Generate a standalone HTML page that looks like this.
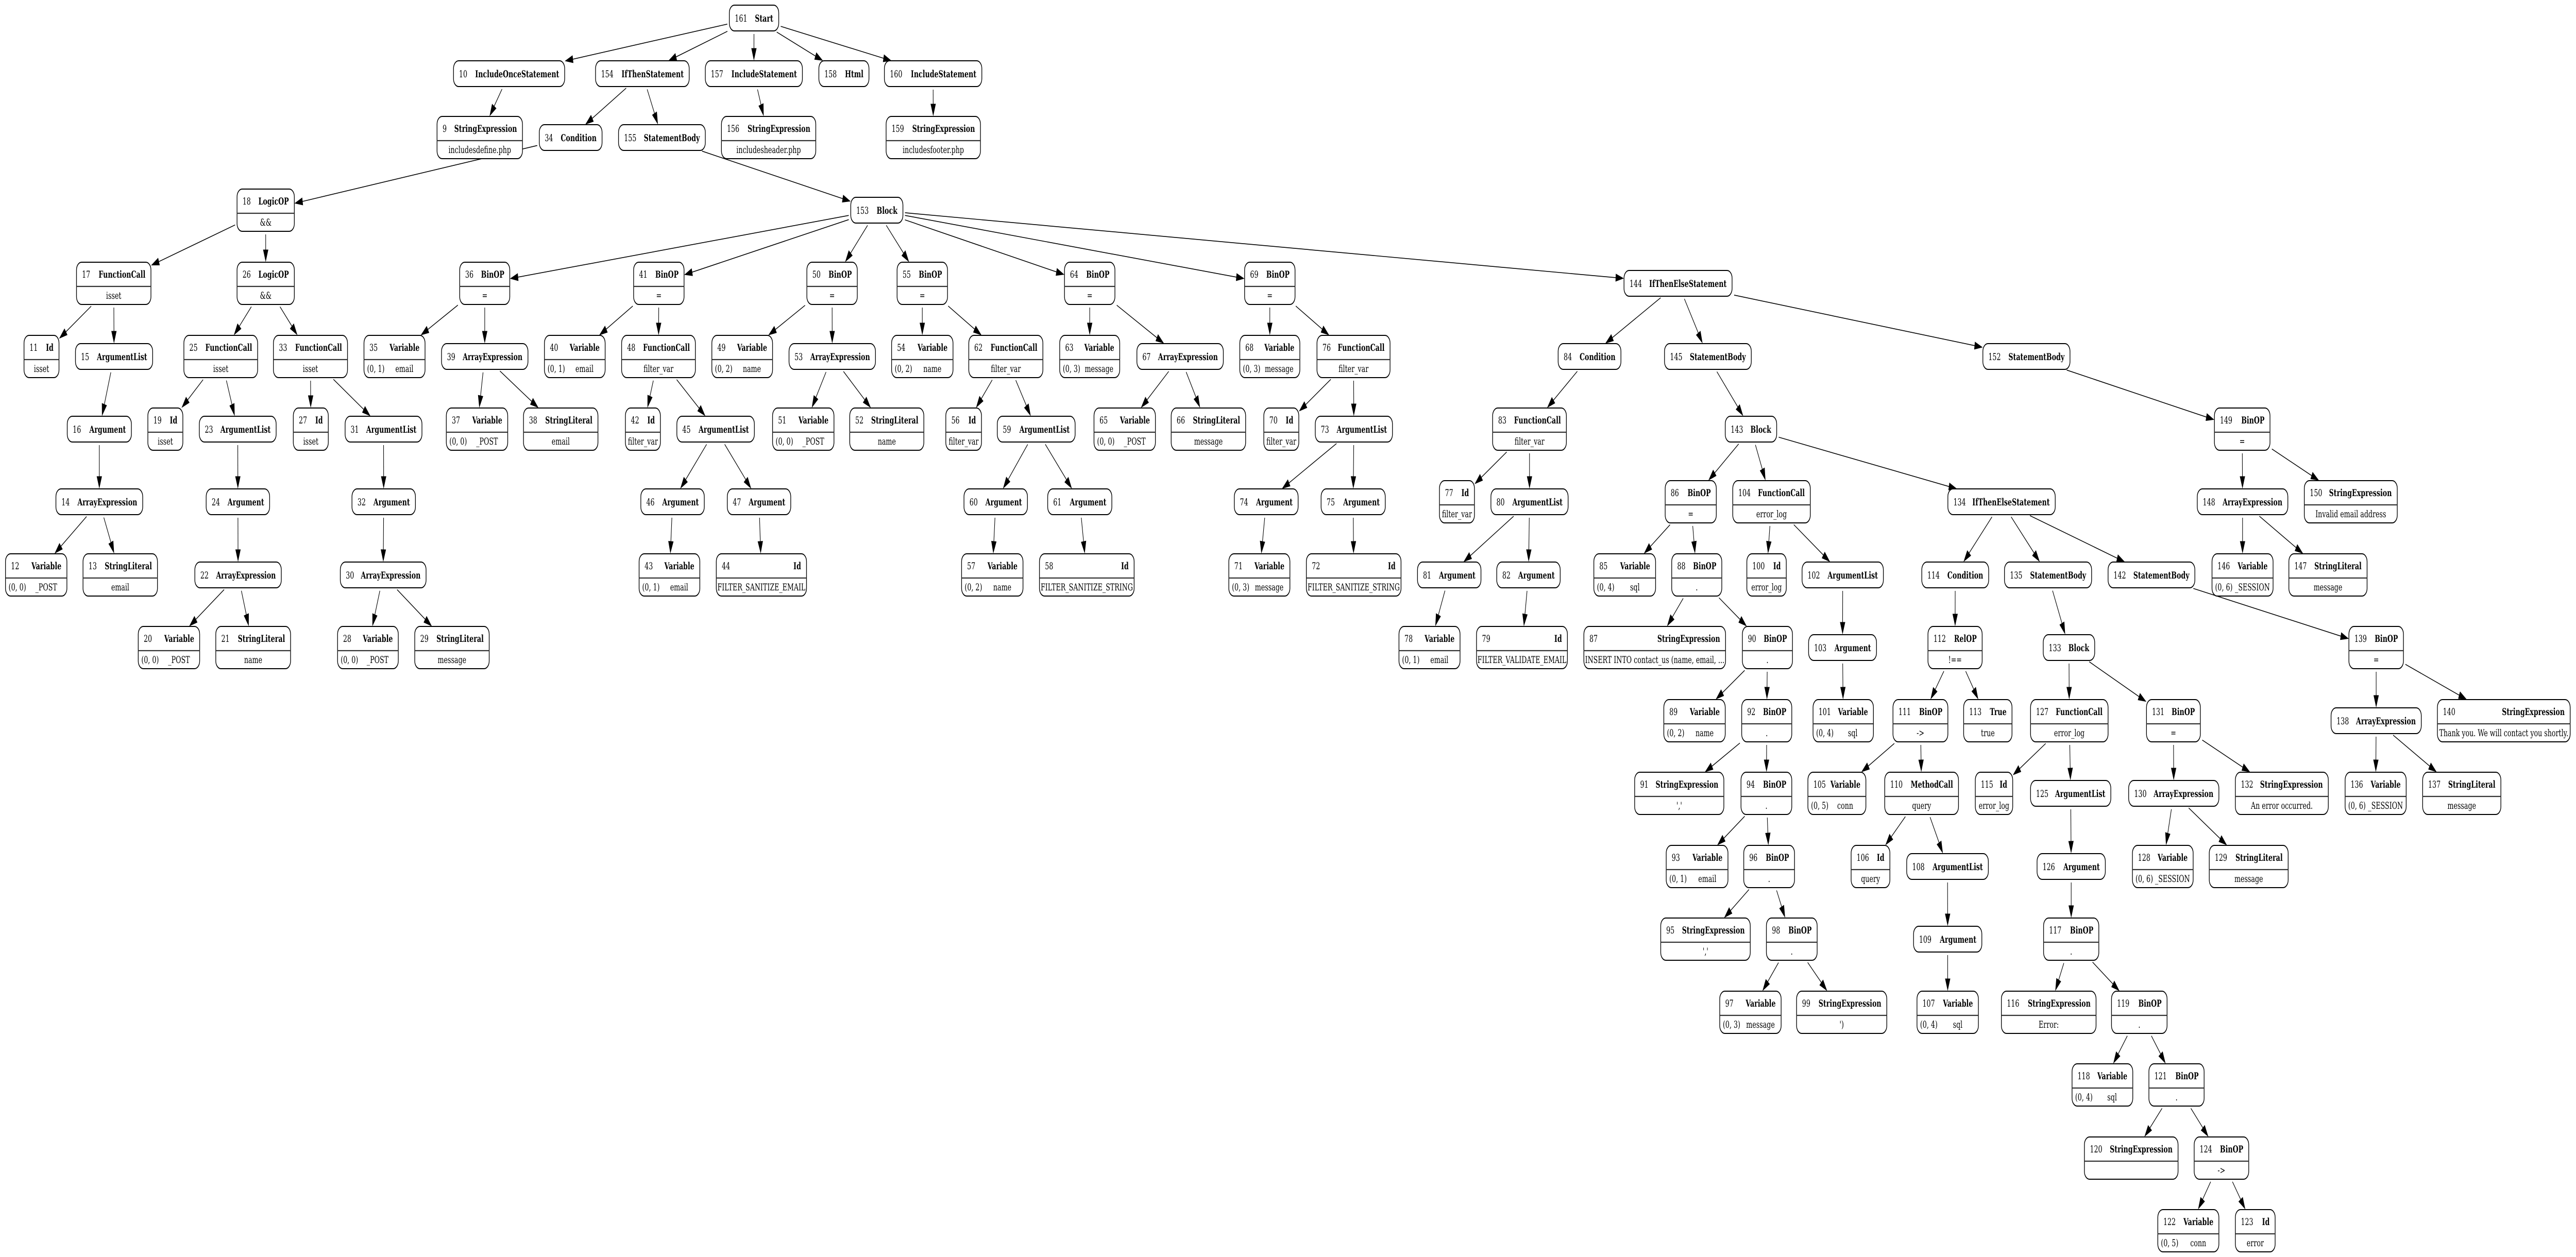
<!DOCTYPE html>
<html><head><meta charset="utf-8">
<style>
html,body{margin:0;padding:0;background:#fff;width:100%;height:100%;overflow:hidden;}
svg{display:block;width:100vw;height:100vh;}
text{font-family:"DejaVu Serif","Liberation Serif",serif;font-size:19px;fill:#000;}
.b{font-weight:bold;}
</style></head>
<body>
<svg id="g" xmlns="http://www.w3.org/2000/svg" viewBox="0 0 7509 2440" preserveAspectRatio="none"><rect width="7509" height="2440" fill="#fff"/></svg>
<script>
var C=[35,143,267,408,550,692,833,974,1116,1257,1399,1540,1682,1823,1965,2106,2248,2389];
var N={
161:["Start",2126,2270,0],
10:["IncludeOnceStatement",1322,1646,1],154:["IfThenStatement",1736,2009,1],157:["IncludeStatement",2056,2339,1],158:["Html",2387,2533,1],160:["IncludeStatement",2578,2862,1],
9:["StringExpression",1274,1523,2,"includesdefine.php"],34:["Condition",1572,1755,2],155:["StatementBody",1803,2056,2],156:["StringExpression",2103,2378,2,"includesheader.php"],159:["StringExpression",2583,2858,2,"includesfooter.php"],
18:["LogicOP",691,858,3,"&&"],153:["Block",2480,2632,3],
17:["FunctionCall",223,440,4,"isset"],26:["LogicOP",691,858,4,"&&"],36:["BinOP",1340,1486,4,"="],41:["BinOP",1847,1994,4,"="],50:["BinOP",2352,2499,4,"="],55:["BinOP",2615,2762,4,"="],64:["BinOP",3103,3250,4,"="],69:["BinOP",3628,3775,4,"="],144:["IfThenElseStatement",4734,5049,4],
11:["Id",70,172,5,"isset"],15:["ArgumentList",220,445,5],25:["FunctionCall",536,751,5,"isset"],33:["FunctionCall",797,1013,5,"isset"],35:["Variable",1061,1239,5,"email","(0, 1)"],39:["ArrayExpression",1287,1539,5],40:["Variable",1587,1764,5,"email","(0, 1)"],48:["FunctionCall",1812,2027,5,"filter_var"],49:["Variable",2075,2252,5,"name","(0, 2)"],53:["ArrayExpression",2300,2552,5],54:["Variable",2599,2778,5,"name","(0, 2)"],62:["FunctionCall",2824,3040,5,"filter_var"],63:["Variable",3089,3264,5,"message","(0, 3)"],67:["ArrayExpression",3314,3566,5],68:["Variable",3614,3789,5,"message","(0, 3)"],76:["FunctionCall",3839,4052,5,"filter_var"],84:["Condition",4542,4725,5],145:["StatementBody",4852,5105,5],152:["StatementBody",5780,6034,5],
16:["Argument",196,383,6],19:["Id",431,533,6,"isset"],23:["ArgumentList",581,805,6],27:["Id",855,957,6,"isset"],31:["ArgumentList",1006,1230,6],37:["Variable",1301,1480,6,"_POST","(0, 0)"],38:["StringLiteral",1526,1743,6,"email"],42:["Id",1823,1925,6,"filter_var"],45:["ArgumentList",1973,2199,6],51:["Variable",2252,2431,6,"_POST","(0, 0)"],52:["StringLiteral",2477,2693,6,"name"],56:["Id",2757,2861,6,"filter_var"],59:["ArgumentList",2907,3134,6],65:["Variable",3189,3368,6,"_POST","(0, 0)"],66:["StringLiteral",3414,3631,6,"message"],70:["Id",3684,3786,6,"filter_var"],73:["ArgumentList",3834,4059,6],83:["FunctionCall",4351,4566,6,"filter_var"],143:["Block",5029,5179,6],149:["BinOP",6455,6617,6,"="],
14:["ArrayExpression",163,416,7],24:["Argument",601,786,7],32:["Argument",1026,1211,7],46:["Argument",1868,2053,7],47:["Argument",2120,2305,7],60:["Argument",2810,2995,7],61:["Argument",3054,3241,7],74:["Argument",3598,3784,7],75:["Argument",3851,4038,7],77:["Id",4196,4298,7,"filter_var"],80:["ArgumentList",4346,4571,7],86:["BinOP",4854,5003,7,"="],104:["FunctionCall",5051,5277,7,"error_log"],134:["IfThenElseStatement",5678,5991,7],148:["ArrayExpression",6405,6669,7],150:["StringExpression",6717,6988,7,"Invalid email address"],
12:["Variable",16,195,8,"_POST","(0, 0)"],13:["StringLiteral",242,459,8,"email"],22:["ArrayExpression",568,820,8],30:["ArrayExpression",992,1242,8],43:["Variable",1863,2040,8,"email","(0, 1)"],44:["Id",2088,2351,8,"FILTER_SANITIZE_EMAIL"],57:["Variable",2803,2982,8,"name","(0, 2)"],58:["Id",3030,3306,8,"FILTER_SANITIZE_STRING"],71:["Variable",3582,3760,8,"message","(0, 3)"],72:["Id",3808,4084,8,"FILTER_SANITIZE_STRING"],81:["Argument",4132,4317,8],82:["Argument",4363,4548,8],85:["Variable",4646,4826,8,"sql","(0, 4)"],88:["BinOP",4873,5019,8,"."],100:["Id",5092,5207,8,"error_log"],102:["ArgumentList",5253,5490,8],114:["Condition",5602,5797,8],135:["StatementBody",5843,6097,8],142:["StatementBody",6145,6398,8],146:["Variable",6448,6626,8,"_SESSION","(0, 6)"],147:["StringLiteral",6672,6900,8,"message"],
20:["Variable",403,582,9,"_POST","(0, 0)"],21:["StringLiteral",629,847,9,"name"],28:["Variable",984,1161,9,"_POST","(0, 0)"],29:["StringLiteral",1209,1426,9,"message"],78:["Variable",4078,4256,9,"email","(0, 1)"],79:["Id",4304,4569,9,"FILTER_VALIDATE_EMAIL"],87:["StringExpression",4617,5030,9,"INSERT INTO contact_us (name, email, ..."],90:["BinOP",5079,5225,9,"."],103:["Argument",5272,5470,9],112:["RelOP",5620,5778,9,"!=="],133:["Block",5956,6106,9],139:["BinOP",6847,7006,9,"="],
89:["Variable",4850,5029,10,"name","(0, 2)"],92:["BinOP",5077,5223,10,"."],101:["Variable",5285,5461,10,"sql","(0, 4)"],111:["BinOP",5518,5678,10,"->"],113:["True",5724,5865,10,"true"],127:["FunctionCall",5919,6145,10,"error_log"],131:["BinOP",6257,6414,10,"="],138:["ArrayExpression",6795,7058,10],140:["StringExpression",7105,7492,10,"Thank you. We will contact you shortly."],
91:["StringExpression",4765,5025,11,"','"],94:["BinOP",5075,5223,11,"."],105:["Variable",5270,5439,11,"conn","(0, 5)"],110:["MethodCall",5494,5709,11,"query"],115:["Id",5758,5867,11,"error_log"],125:["ArgumentList",5919,6153,11],130:["ArrayExpression",6205,6468,11],132:["StringExpression",6516,6787,11,"An error occurred."],136:["Variable",6836,7014,11,"_SESSION","(0, 6)"],137:["StringLiteral",7062,7290,11,"message"],
93:["Variable",4857,5037,12,"email","(0, 1)"],96:["BinOP",5083,5231,12,"."],106:["Id",5396,5509,12,"query"],108:["ArgumentList",5558,5796,12],126:["Argument",5938,6137,12],128:["Variable",6216,6393,12,"_SESSION","(0, 6)"],129:["StringLiteral",6440,6670,12,"message"],
95:["StringExpression",4841,5102,13,"','"],98:["BinOP",5149,5297,13,"."],109:["Argument",5578,5777,13],117:["BinOP",5957,6118,13,"."],
97:["Variable",5013,5192,14,"message","(0, 3)"],99:["StringExpression",5237,5500,14,"')"],107:["Variable",5588,5767,14,"sql","(0, 4)"],116:["StringExpression",5834,6110,14,"Error: "],119:["BinOP",6155,6317,14,"."],
118:["Variable",6040,6217,15,"sql","(0, 4)"],121:["BinOP",6264,6425,15,"."],
120:["StringExpression",6076,6349,16,""],124:["BinOP",6396,6555,16,"->"],
122:["Variable",6290,6468,17,"conn","(0, 5)"],123:["Id",6516,6632,17,"error"]
};
var E={161:[10,154,157,158,160],10:[9],154:[34,155],34:[18],155:[153],157:[156],160:[159],
18:[17,26],17:[11,15],15:[16],16:[14],14:[12,13],26:[25,33],25:[19,23],23:[24],24:[22],22:[20,21],33:[27,31],31:[32],32:[30],30:[28,29],
153:[36,41,50,55,64,69,144],36:[35,39],39:[37,38],41:[40,48],48:[42,45],45:[46,47],46:[43],47:[44],50:[49,53],53:[51,52],55:[54,62],62:[56,59],59:[60,61],60:[57],61:[58],64:[63,67],67:[65,66],69:[68,76],76:[70,73],73:[74,75],74:[71],75:[72],
144:[84,145,152],84:[83],83:[77,80],80:[81,82],81:[78],82:[79],145:[143],152:[149],149:[148,150],148:[146,147],
143:[86,104,134],86:[85,88],88:[87,90],90:[89,92],92:[91,94],94:[93,96],96:[95,98],98:[97,99],104:[100,102],102:[103],103:[101],
134:[114,135,142],114:[112],112:[111,113],111:[105,110],110:[106,108],108:[109],109:[107],135:[133],133:[127,131],127:[115,125],125:[126],126:[117],117:[116,119],119:[118,121],121:[120,124],124:[122,123],131:[130,132],130:[128,129],142:[139],139:[138,140],138:[136,137]};
var NS="http://www.w3.org/2000/svg",svg=document.getElementById("g");
function el(t,a,txt){var e=document.createElementNS(NS,t);for(var k in a)e.setAttribute(k,a[k]);if(txt!=null)e.textContent=txt;svg.appendChild(e);return e;}
function box(id){var n=N[id];var two=n[4]!=null;var h=two?82:50;var cy=C[n[3]];return {x1:n[1],x2:n[2],cx:(n[1]+n[2])/2,cy:cy,top:cy-h/2,h:h,hw:(n[2]-n[1])/2,hh:h/2,two:two};}
function clip(b,dx,dy){var t=Math.min(dx?b.hw/Math.abs(dx):1e9,dy?b.hh/Math.abs(dy):1e9);return [b.cx+dx*t,b.cy+dy*t];}
for(var p in E){E[p].forEach(function(c){var a=box(p),b=box(c);var dx=b.cx-a.cx,dy=b.cy-a.cy;
var s=clip(a,dx,dy),e=clip(b,-dx,-dy);var L=Math.hypot(e[0]-s[0],e[1]-s[1]);var ux=(e[0]-s[0])/L,uy=(e[1]-s[1])/L;
s=[s[0]+ux*6,s[1]+uy*6];e=[e[0]-ux*2,e[1]-uy*2];
var bx=e[0]-ux*22,by=e[1]-uy*22;
el("line",{x1:s[0],y1:s[1],x2:bx,y2:by,stroke:"#000","stroke-width":1.6});
el("polygon",{points:e[0]+","+e[1]+" "+(bx-uy*7)+","+(by+ux*7)+" "+(bx+uy*7)+","+(by-ux*7),fill:"#000",stroke:"#000","stroke-width":1});});}
for(var id in N){var n=N[id],b=box(id);
el("rect",{x:b.x1,y:b.top,width:b.x2-b.x1,height:b.h,rx:15,ry:15,fill:"#fff",stroke:"#000","stroke-width":2});
var base=b.two?b.top+30:b.cy+7;
el("text",{x:b.x1+16,y:base},id);
var nm=el("text",{x:b.x2-16,y:base,"text-anchor":"end","class":"b"},n[0]);
if(b.two){el("line",{x1:b.x1,y1:b.top+47,x2:b.x2,y2:b.top+47,stroke:"#333","stroke-width":2.2});
if(n[5]!=null){el("text",{x:b.x1+9,y:b.top+71},n[5]);var cx;try{var bb=nm.getBBox();cx=bb.x+bb.width/2;}catch(err){cx=b.x2-60;}
el("text",{x:cx,y:b.top+71,"text-anchor":"middle"},n[4]);}
else el("text",{x:b.cx,y:b.top+71,"text-anchor":"middle","xml:space":"preserve"},n[4]);}}
</script>
</body></html>
